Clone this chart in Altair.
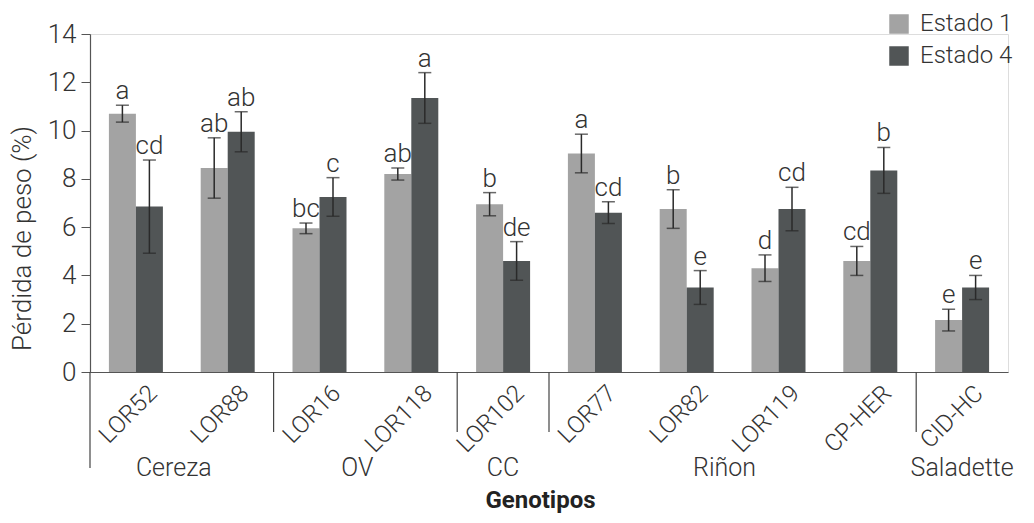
import altair as alt
import pandas as pd

genotypes = ["LOR52", "LOR88", "LOR16", "LOR118", "LOR102", "LOR77", "LOR82", "LOR119", "CP-HER", "CID-HC"]
e1 = [10.7, 8.45, 5.95, 8.2, 6.95, 9.05, 6.75, 4.3, 4.6, 2.15]
e1_err = [0.35, 1.25, 0.22, 0.25, 0.48, 0.8, 0.8, 0.55, 0.6, 0.45]
e4 = [6.85, 9.95, 7.25, 11.35, 4.6, 6.6, 3.5, 6.75, 8.35, 3.5]
e4_err = [1.93, 0.83, 0.8, 1.05, 0.8, 0.45, 0.7, 0.9, 0.95, 0.5]
letters1 = ["a", "ab", "bc", "ab", "b", "a", "b", "d", "cd", "e"]
letters4 = ["cd", "ab", "c", "a", "de", "cd", "e", "cd", "b", "e"]
series = ["Estado 1", "Estado 4"]
colors = ["#a3a3a3", "#515556"]

# group labels: (label, anchor genotype)
groups_even = ["Cereza", "OV", "Riñon"]
groups_even_anchor = ["LOR88", "LOR118", "LOR119"]
groups_odd = ["CC", "Saladette"]
groups_odd_anchor = ["LOR102", "CID-HC"]
dividers = ["LOR16", "LOR102", "LOR77", "CID-HC"]

rows = []
for i, g in enumerate(genotypes):
    rows.append({"gen": g, "est": series[0], "val": e1[i], "lo": e1[i] - e1_err[i], "hi": e1[i] + e1_err[i], "let": letters1[i]})
    rows.append({"gen": g, "est": series[1], "val": e4[i], "lo": e4[i] - e4_err[i], "hi": e4[i] + e4_err[i], "let": letters4[i]})
df = pd.DataFrame(rows)

W, H = 918, 338
FONT = "Roboto"
TXT = "#333333"

xscale = alt.Scale(domain=genotypes, paddingInner=0, paddingOuter=0)
xoff = alt.XOffset("est:N", scale=alt.Scale(domain=series, paddingInner=0, paddingOuter=0.7))
yscale = alt.Scale(domain=[0, 14])

base = alt.Chart(df)

bars = base.mark_bar().encode(
    x=alt.X("gen:N", scale=xscale, sort=genotypes,
            axis=alt.Axis(title="Genotipos", labelAngle=-45, ticks=False, labelFontSize=24,
                          labelFont=FONT, labelFontWeight=300, labelColor=TXT, labelOffset=9,
                          labelPadding=9, domainColor="#555555", domainWidth=1.2,
                          titleFont=FONT, titleFontSize=24, titleFontWeight="bold", titleColor="#222222",
                          titleY=128, titleX=450, titleBaseline="middle")),
    xOffset=xoff,
    y=alt.Y("val:Q", scale=yscale,
            axis=alt.Axis(title="Pérdida de peso (%)", values=list(range(0, 15, 2)), grid=False,
                          labelFontSize=26, labelFont=FONT, labelFontWeight=300, labelColor=TXT,
                          tickSize=9, tickColor="#555555", domainColor="#555555", domainWidth=1.2,
                          labelPadding=5, titleFont=FONT, titleFontSize=26, titleFontWeight=300,
                          titleColor=TXT, titleAngle=270, titleX=-68, titleY=204,
                          titleAlign="center", titleBaseline="middle")),
    color=alt.Color("est:N", scale=alt.Scale(domain=series, range=colors),
                    legend=alt.Legend(title=None, orient="none", legendX=797, legendY=-22,
                                      symbolType="square", symbolSize=380, symbolStrokeWidth=0,
                                      labelFontSize=24, labelFont=FONT, labelFontWeight=300,
                                      labelColor=TXT, rowPadding=8, labelOffset=9)),
)

err = base.mark_rule(color="#2a2a2a", strokeWidth=1.5).encode(
    x=alt.X("gen:N", scale=xscale, sort=genotypes), xOffset=xoff,
    y=alt.Y("lo:Q", scale=yscale), y2="hi:Q")
cap_hi = base.mark_tick(color="#2a2a2a", thickness=1.5, size=13).encode(
    x=alt.X("gen:N", scale=xscale, sort=genotypes), xOffset=xoff, y=alt.Y("hi:Q", scale=yscale))
cap_lo = base.mark_tick(color="#2a2a2a", thickness=1.5, size=13).encode(
    x=alt.X("gen:N", scale=xscale, sort=genotypes), xOffset=xoff, y=alt.Y("lo:Q", scale=yscale))
letters = base.mark_text(baseline="bottom", dy=-1, fontSize=26, font=FONT, fontWeight=300, color=TXT).encode(
    x=alt.X("gen:N", scale=xscale, sort=genotypes), xOffset=xoff, y=alt.Y("hi:Q", scale=yscale), text="let:N")

div_df = pd.DataFrame({"gen": dividers})
div = alt.Chart(div_df).mark_rule(color="#444444", strokeWidth=1.2).encode(
    x=alt.X("gen:N", scale=xscale, sort=genotypes, bandPosition=0),
    y=alt.value(H), y2=alt.value(H + 60))
left_df = pd.DataFrame({"gen": [genotypes[0]]})
left = alt.Chart(left_df).mark_rule(color="#444444", strokeWidth=1.2).encode(
    x=alt.X("gen:N", scale=xscale, sort=genotypes, bandPosition=0),
    y=alt.value(H), y2=alt.value(H + 96))

ge = pd.DataFrame({"label": groups_even, "gen": groups_even_anchor})
go = pd.DataFrame({"label": groups_odd, "gen": groups_odd_anchor})
gtext_e = alt.Chart(ge).mark_text(baseline="middle", fontSize=25, font=FONT, fontWeight=300, color=TXT, dx=-8).encode(
    x=alt.X("gen:N", scale=xscale, sort=genotypes, bandPosition=0), y=alt.value(H + 96), text="label:N")
gtext_o = alt.Chart(go).mark_text(baseline="middle", fontSize=25, font=FONT, fontWeight=300, color=TXT).encode(
    x=alt.X("gen:N", scale=xscale, sort=genotypes, bandPosition=0.5), y=alt.value(H + 96), text="label:N")

chart = alt.layer(bars, err, cap_hi, cap_lo, letters, div, left, gtext_e, gtext_o).properties(
    width=W, height=H,
    autosize=alt.AutoSizeParams(type="none"),
    padding={"left": 82, "top": 26, "right": 16, "bottom": 143},
).configure_view(stroke=None).configure(background="white")

chart.save("out.html", embed_options={"renderer": "svg", "actions": False})
